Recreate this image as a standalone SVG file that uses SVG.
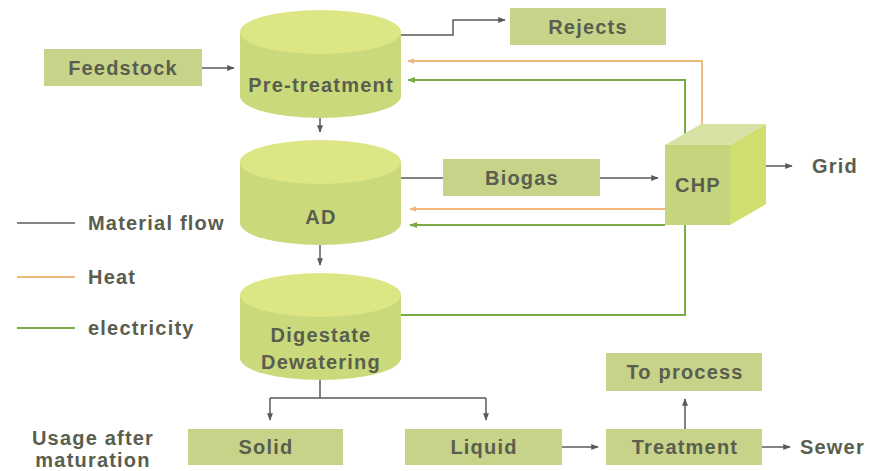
<svg xmlns="http://www.w3.org/2000/svg" width="870" height="471" viewBox="0 0 870 471">
<defs>
<style>
text{font-family:"Liberation Sans",Arial,sans-serif;font-weight:bold;font-size:20px;letter-spacing:1.2px;fill:#595e4e}
.c{text-anchor:middle}
.box{fill:#c8d38a}
.cylside{fill:#cad97b}
.cyltop{fill:#dde685}
.mat{fill:none;stroke:#5a5a5a;stroke-width:1.5}
.heat{fill:none;stroke:#efb77c;stroke-width:1.8}
.elec{fill:none;stroke:#7aab45;stroke-width:2}
</style>
<marker id="am" viewBox="0 0 10 10" refX="9" refY="5" markerWidth="5" markerHeight="5" orient="auto" markerUnits="strokeWidth"><path d="M0,1 L10,5 L0,9 z" fill="#5a5a5a"/></marker>
<marker id="ah" viewBox="0 0 10 10" refX="9" refY="5" markerWidth="4" markerHeight="4" orient="auto" markerUnits="strokeWidth"><path d="M0,1 L10,5 L0,9 z" fill="#efb77c"/></marker>
<marker id="ae" viewBox="0 0 10 10" refX="9" refY="5" markerWidth="4" markerHeight="4" orient="auto" markerUnits="strokeWidth"><path d="M0,1 L10,5 L0,9 z" fill="#7aab45"/></marker>
</defs>
<rect width="870" height="471" fill="#ffffff"/>

<g id="connectors">
<path class="mat" d="M202 68 H234" marker-end="url(#am)"/>
<path class="mat" d="M401 35 H453 V20 H505" marker-end="url(#am)"/>
<path class="mat" d="M320 118 V132" marker-end="url(#am)"/>
<path class="mat" d="M401 178 H443"/>
<path class="mat" d="M600 178 H658" marker-end="url(#am)"/>
<path class="mat" d="M320 245 V265" marker-end="url(#am)"/>
<path class="mat" d="M320 380 V398 M270 398 H486"/>
<path class="mat" d="M270 398 V420" marker-end="url(#am)"/>
<path class="mat" d="M486 398 V420" marker-end="url(#am)"/>
<path class="mat" d="M562 447 H598" marker-end="url(#am)"/>
<path class="mat" d="M685 429 V399" marker-end="url(#am)"/>
<path class="mat" d="M762 447 H790" marker-end="url(#am)"/>
<path class="mat" d="M766 166 H792" marker-end="url(#am)"/>
<path class="heat" d="M702 124 V61 H408" marker-end="url(#ah)"/>
<path class="heat" d="M665 209 H410" marker-end="url(#ah)"/>
<path class="elec" d="M685 134 V80 H408" marker-end="url(#ae)"/>
<path class="elec" d="M665 225 H410" marker-end="url(#ae)"/>
<path class="elec" d="M685 225 V315 H400"/>
</g>

<g id="legend">
<line x1="17" y1="223" x2="75" y2="223" stroke="#5a5a5a" stroke-width="1.5"/>
<text x="88" y="230">Material flow</text>
<line x1="17" y1="277" x2="75" y2="277" stroke="#efb77c" stroke-width="1.8"/>
<text x="88" y="284">Heat</text>
<line x1="17" y1="328" x2="75" y2="328" stroke="#7aab45" stroke-width="2"/>
<text x="88" y="335">electricity</text>
</g>

<g id="feedstock">
<rect class="box" x="44" y="49" width="158" height="37"/>
<text class="c" x="123" y="75">Feedstock</text>
</g>

<g id="pretreatment">
<path class="cylside" d="M240 32 V96 A80.5 22 0 0 0 401 96 V32 Z"/>
<ellipse class="cyltop" cx="320.5" cy="32" rx="80.5" ry="22"/>
<text class="c" x="321" y="92">Pre-treatment</text>
</g>

<g id="rejects">
<rect class="box" x="510" y="8" width="156" height="37"/>
<text class="c" x="588" y="34">Rejects</text>
</g>

<g id="ad">
<path class="cylside" d="M240 162 V223 A80.5 22 0 0 0 401 223 V162 Z"/>
<ellipse class="cyltop" cx="320.5" cy="162" rx="80.5" ry="22"/>
<text class="c" x="321" y="224">AD</text>
</g>

<g id="biogas">
<rect class="box" x="443" y="159" width="157" height="37"/>
<text class="c" x="522" y="185">Biogas</text>
</g>

<g id="chp">
<polygon points="665,145 701,124 766,124 730,145" fill="#d8e2a4"/>
<polygon points="730,145 766,124 766,204 730,225" fill="#d0de70"/>
<rect x="665" y="145" width="65" height="80" fill="#c7d47e"/>
<text class="c" x="698" y="192">CHP</text>
</g>

<g id="grid">
<text x="812" y="173">Grid</text>
</g>

<g id="digestate">
<path class="cylside" d="M240 295 V358 A80.5 22 0 0 0 401 358 V295 Z"/>
<ellipse class="cyltop" cx="320.5" cy="295" rx="80.5" ry="22"/>
<text class="c" x="321" y="342">Digestate</text>
<text class="c" x="321" y="369">Dewatering</text>
</g>

<g id="usage">
<text class="c" x="93" y="445">Usage after</text>
<text class="c" x="93" y="467">maturation</text>
</g>

<g id="solid">
<rect class="box" x="188" y="429" width="155" height="36"/>
<text class="c" x="266" y="454">Solid</text>
</g>

<g id="liquid">
<rect class="box" x="405" y="429" width="157" height="36"/>
<text class="c" x="484" y="454">Liquid</text>
</g>

<g id="treatment">
<rect class="box" x="606" y="429" width="156" height="36"/>
<text class="c" x="685" y="454">Treatment</text>
</g>

<g id="toprocess">
<rect class="box" x="606" y="353" width="156" height="38"/>
<text class="c" x="685" y="379">To process</text>
</g>

<g id="sewer">
<text x="800" y="454">Sewer</text>
</g>
</svg>
